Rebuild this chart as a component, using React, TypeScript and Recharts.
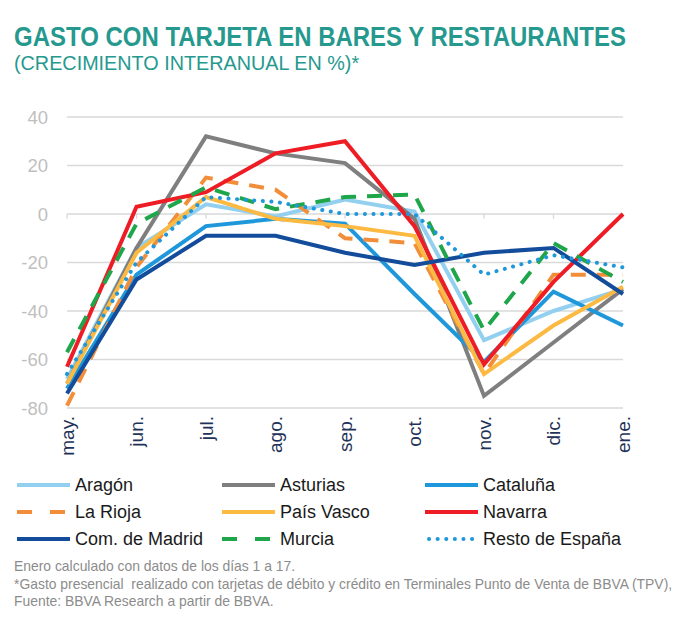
import React from 'react'
import { LineChart, Line, XAxis, YAxis, CartesianGrid, ReferenceLine } from 'recharts'

const months = ['may.', 'jun.', 'jul.', 'ago.', 'sep.', 'oct.', 'nov.', 'dic.', 'ene.']
const yTicks = [-80, -60, -40, -20, 0, 20, 40]

const aragon = [-68, -14, 4, -1, 6, 1, -52, -40, -31]
const asturias = [-70, -14, 32, 25, 21, -2, -75, -53, -31]
const cataluna = [-72, -25, -5, -2, -4, -33, -61, -32, -46]
const laRioja = [-79, -22, 15, 10, -10, -12, -66, -25, -25]
const paisVasco = [-70, -16, 7, -2, -5, -9, -66, -46, -30]
const navarra = [-63, 3, 9, 25, 30, -5, -62, -28, 0]
const madrid = [-74, -27, -9, -9, -16, -21, -16, -14, -33]
const murcia = [-57, -4, 11, 2, 7, 8, -48, -12, -28]
const resto = [-66, -20, 7, 5, 0, 0, -25, -17, -22]

const series = [
  { key: 'aragon', name: 'Aragón', values: aragon, color: '#93D0F0', dash: undefined },
  { key: 'asturias', name: 'Asturias', values: asturias, color: '#7F7F7F', dash: undefined },
  { key: 'cataluna', name: 'Cataluña', values: cataluna, color: '#1E98DA', dash: undefined },
  { key: 'laRioja', name: 'La Rioja', values: laRioja, color: '#F28E3A', dash: 'dash' },
  { key: 'paisVasco', name: 'País Vasco', values: paisVasco, color: '#FDBA43', dash: undefined },
  { key: 'navarra', name: 'Navarra', values: navarra, color: '#EE1C25', dash: undefined },
  { key: 'madrid', name: 'Com. de Madrid', values: madrid, color: '#124C9A', dash: undefined },
  { key: 'murcia', name: 'Murcia', values: murcia, color: '#1FA64B', dash: 'dash' },
  { key: 'resto', name: 'Resto de España', values: resto, color: '#1E98DA', dash: 'dot' },
]

const data = months.map((m, i) => {
  const row: Record<string, any> = { month: m }
  series.forEach(s => { row[s.key] = s.values[i] })
  return row
})

const font = '"Liberation Sans", Arial, Helvetica, sans-serif'
const teal = '#26998F'

const MonthTick = ({ x, y, payload }: any) => (
  <g transform={`translate(${x},${y})`}>
    <text transform="rotate(-90)" textAnchor="end" dy="0.35em" fill="#1F3258" fontSize={19} fontFamily={font}>
      {payload.value}
    </text>
  </g>
)

function dashFor(d: string | undefined) {
  if (d === 'dash') return '15 11'
  if (d === 'dot') return '0.1 8.5'
  return undefined
}

function legendDash(d: string | undefined) {
  if (d === 'dash') return '15 18'
  if (d === 'dot') return '0.1 8.5'
  return undefined
}

export default function App() {
  return (
    <div style={{ position: 'absolute', left: 0, top: 0, width: 680, height: 617, background: '#fff', fontFamily: font }}>
      <div style={{ position: 'absolute', left: 14, top: 24, fontSize: 27, lineHeight: 1, fontWeight: 'bold', color: teal, whiteSpace: 'nowrap', transform: 'scaleX(0.888)', transformOrigin: '0 0' }}>
        GASTO CON TARJETA EN BARES Y RESTAURANTES
      </div>
      <div style={{ position: 'absolute', left: 14, top: 52.5, fontSize: 20.5, lineHeight: 1, color: teal, whiteSpace: 'nowrap', transform: 'scaleX(0.965)', transformOrigin: '0 0' }}>
        (CRECIMIENTO INTERANUAL EN %)*
      </div>

      <div style={{ position: 'absolute', left: 0, top: 0 }}>
        <LineChart width={680} height={460} data={data} margin={{ top: 117, right: 57, left: 0, bottom: 0 }}>
          <CartesianGrid vertical={false} stroke="#D9D9D9" strokeWidth={1.3} />
          <XAxis
            dataKey="month"
            axisLine={false}
            tickLine={false}
            tickSize={0}
            tickMargin={8}
            height={52}
            interval={0}
            tick={<MonthTick />}
          />
          <YAxis
            domain={[-80, 40]}
            ticks={yTicks}
            width={67}
            axisLine={false}
            tickLine={false}
            tickSize={0}
            tickMargin={19}
            tick={{ fill: '#BFBFBF', fontSize: 18.5, fontFamily: font }}
          />
          {months.map(m => (
            <ReferenceLine
              key={'t-' + m}
              segment={[{ x: m, y: 0 }, { x: m, y: -2 }]}
              stroke="#D9D9D9"
              strokeWidth={1.3}
            />
          ))}
          {series.map(s => (
            <Line
              key={s.key}
              dataKey={s.key}
              name={s.name}
              stroke={s.color}
              strokeWidth={4}
              strokeDasharray={dashFor(s.dash)}
              strokeLinecap={s.dash === 'dot' ? 'round' : 'butt'}
              strokeLinejoin="miter"
              dot={false}
              activeDot={false}
              isAnimationActive={false}
            />
          ))}
        </LineChart>
      </div>

      <div style={{ position: 'absolute', left: 0, top: 471.5, width: 680 }}>
        {[0, 1, 2].map(r => (
          <div key={r} style={{ position: 'relative', height: 27 }}>
            {series.slice(r * 3, r * 3 + 3).map((s, c) => (
              <div
                key={s.key}
                style={{ position: 'absolute', left: [17, 222, 425][c], top: 0, height: 27, display: 'flex', alignItems: 'center', whiteSpace: 'nowrap' }}
              >
                <svg width={53} height={8} style={{ display: 'block' }}>
                  <line
                    x1={s.dash === 'dot' ? 4 : 0}
                    y1={4}
                    x2={53}
                    y2={4}
                    stroke={s.color}
                    strokeWidth={4}
                    strokeDasharray={legendDash(s.dash)}
                    strokeLinecap={s.dash === 'dot' ? 'round' : 'butt'}
                  />
                </svg>
                <span style={{ marginLeft: 5, fontSize: 18, lineHeight: 1, color: '#1A1A1A' }}>{s.name}</span>
              </div>
            ))}
          </div>
        ))}
      </div>

      <div style={{ position: 'absolute', left: 14, top: 558, fontSize: 13.9, lineHeight: '17.5px', color: '#8C8C8C', whiteSpace: 'pre' }}>
        <div>Enero calculado con datos de los días 1 a 17.</div>
        <div>*Gasto presencial  realizado con tarjetas de débito y crédito en Terminales Punto de Venta de BBVA (TPV),</div>
        <div>Fuente: BBVA Research a partir de BBVA.</div>
      </div>
    </div>
  )
}
